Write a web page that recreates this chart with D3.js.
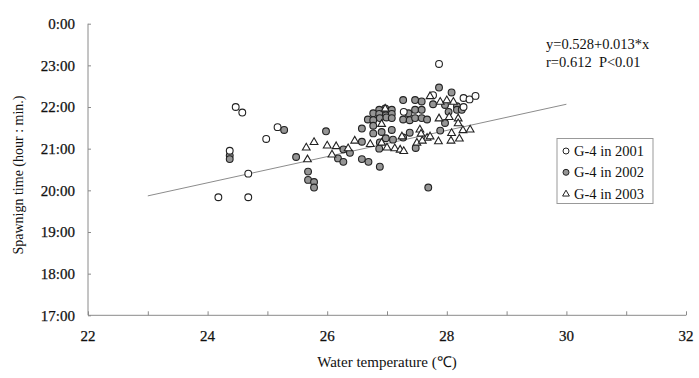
<!DOCTYPE html>
<html>
<head>
<meta charset="utf-8">
<script src="https://cdn.jsdelivr.net/npm/d3@7"></script>
<style>
body { margin: 0; background: #fff; }
text { font-family: "Liberation Serif", "Times New Roman", serif; fill: #111; }
</style>
</head>
<body>
<div id="chart"></div>
<script>
// G-4 in 2001 (open circles)
var temp2001 = [24.47, 24.58, 25.17, 24.98, 24.37, 24.68, 24.18, 24.68, 27.87, 27.77, 28.28, 28.38, 28.48, 28.28, 27.28];
var time2001 = ["22:00", "21:52", "21:31", "21:14", "20:57", "20:24", "19:50", "19:50", "23:02", "22:17", "22:13", "22:11", "22:16", "22:00", "21:53"];

// G-4 in 2002 (grey circles)
var temp2002 = [25.28, 25.98, 24.37, 24.37, 25.48, 26.18, 25.68, 25.68, 25.78, 25.78,
	27.87, 28.08, 27.27, 27.47, 27.58, 27.77, 27.97, 28.17, 26.97, 27.08, 26.87,
	26.77, 26.87, 26.98, 27.08, 27.36, 27.47, 27.58,
	26.68, 26.77, 26.88, 26.99, 27.08, 27.27, 27.38, 27.47, 27.58, 27.67,
	28.03, 28.17, 28.25, 26.77, 26.58, 27.08, 26.77, 26.91, 27.89, 27.97,
	27.38, 27.27, 26.98, 27.10, 26.58, 26.88, 26.27, 26.38, 26.87, 27.48,
	26.27, 26.58, 26.69, 26.88, 27.69];
var time2002 = ["21:27", "21:25", "20:50", "20:45", "20:48", "20:46", "20:27", "20:15", "20:12", "20:04",
	"22:28", "22:21", "22:10", "22:10", "22:08", "22:04", "22:03", "22:01", "21:58", "21:56", "21:56",
	"21:51", "21:50", "21:48", "21:50", "21:51", "21:56", "21:56",
	"21:42", "21:41", "21:44", "21:45", "21:44", "21:42", "21:41", "21:44", "21:44", "21:42",
	"21:53", "21:56", "21:56", "21:33", "21:29", "21:27", "21:22", "21:24", "21:26", "21:37",
	"21:23", "21:16", "21:15", "21:13", "21:10", "21:09", "20:59", "20:54", "21:00", "21:01",
	"20:41", "20:45", "20:41", "20:34", "20:04"];

// G-4 in 2003 (open triangles)
var temp2003 = [25.65, 25.78, 26.00, 26.15, 25.67, 26.08, 26.35, 27.72, 27.89, 28.11, 28.00, 26.97,
	27.87, 28.04, 28.19, 26.91, 27.55, 28.19, 28.27, 28.39, 28.08, 27.25, 27.57, 27.67, 27.72,
	27.50, 27.59, 27.86, 28.07, 28.21, 26.46, 26.72, 26.91, 27.00, 27.13, 27.22, 27.28];
var time2003 = ["21:02", "21:10", "21:05", "21:04", "20:45", "20:52", "21:01", "22:16", "22:08", "22:08", "22:10", "21:58",
	"21:44", "21:46", "21:44", "21:36", "21:28", "21:37", "21:27", "21:28", "21:23", "21:18", "21:22", "21:16", "21:18",
	"21:09", "21:12", "21:11", "21:12", "21:15", "21:12", "21:07", "21:09", "21:02", "21:01", "20:59", "20:57"];

// regression line end points (temperature, time)
var lineTemp = [23, 30];
var lineTime = ["19:52", "22:04"];

var xTicks = [22, 24, 26, 28, 30, 32];
var yTicks = [17, 18, 19, 20, 21, 22, 23, 24];
var yTickLabels = ["17:00", "18:00", "19:00", "20:00", "21:00", "22:00", "23:00", "0:00"];
var legendLabels = ["G-4 in 2001", "G-4 in 2002", "G-4 in 2003"];
var equationText = ["y=0.528+0.013*x", "r=0.612  P<0.01"];

function hours(s) {
	var p = s.split(":");
	return +p[0] + (+p[1]) / 60;
}

function pairs(t, h) {
	return t.map(function(d, i) { return {t: d, h: hours(h[i])}; });
}

var width = 699, height = 378;
var axisColor = "#8a8a8a";

var svg = d3.select("#chart").append("svg")
	.attr("width", width)
	.attr("height", height);

var x = d3.scaleLinear().domain([22, 32]).range([88, 686]);
var y = d3.scaleLinear().domain([17, 24]).range([315.3, 23.7]);

//x axis with a tick every degree, label every two
var xAxis = svg.append("g")
	.attr("transform", "translate(0," + y(17) + ")")
	.call(d3.axisTop(x).tickValues(d3.range(22, 33, 1)).tickSize(4).tickFormat(""));
xAxis.select(".domain").attr("d", "M" + x(22) + ",0H" + x(32)).attr("stroke", axisColor);
xAxis.selectAll("line").attr("stroke", axisColor);

svg.selectAll(".xlab")
	.data(xTicks)
	.enter().append("text")
		.attr("class", "xlab")
		.attr("x", d => x(d))
		.attr("y", 341)
		.attr("text-anchor", "middle")
		.attr("font-size", 15)
		.attr("stroke", "#111").attr("stroke-width", 0.25)
		.text(d => d);

//y axis
var yAxis = svg.append("g")
	.attr("transform", "translate(" + x(22) + ",0)")
	.call(d3.axisRight(y).tickValues(yTicks).tickSize(3).tickFormat(""));
yAxis.select(".domain").attr("d", "M0," + y(24) + "V" + y(17)).attr("stroke", axisColor);
yAxis.selectAll("line").attr("stroke", axisColor);

svg.selectAll(".ylab")
	.data(yTicks)
	.enter().append("text")
		.attr("class", "ylab")
		.attr("x", 75)
		.attr("y", d => y(d))
		.attr("dy", "0.35em")
		.attr("text-anchor", "end")
		.attr("font-size", 15)
		.attr("stroke", "#111").attr("stroke-width", 0.25)
		.text((d, i) => yTickLabels[i]);

//axis titles
svg.append("text")
	.attr("x", 387)
	.attr("y", 367)
	.attr("text-anchor", "middle")
	.attr("font-size", 15)
	.text("Water temperature (\u2103)");

svg.append("text")
	.attr("transform", "translate(23,175) rotate(-90)")
	.attr("text-anchor", "middle")
	.attr("font-size", 14)
	.text("Spawnign time (hour : min.)");

//regression line
var reg = pairs(lineTemp, lineTime);
svg.append("line")
	.attr("x1", x(reg[0].t)).attr("y1", y(reg[0].h))
	.attr("x2", x(reg[1].t)).attr("y2", y(reg[1].h))
	.attr("stroke", "#8c8c8c")
	.attr("stroke-width", 1);

//points
var tri = d3.symbol().type(d3.symbolTriangle).size(26);

svg.append("g").selectAll("circle")
	.data(pairs(temp2002, time2002))
	.enter().append("circle")
		.attr("cx", d => x(d.t))
		.attr("cy", d => y(d.h))
		.attr("r", 3.4)
		.attr("fill", "#959595")
		.attr("stroke", "#222")
		.attr("stroke-width", 1.1);

svg.append("g").selectAll("circle")
	.data(pairs(temp2001, time2001))
	.enter().append("circle")
		.attr("cx", d => x(d.t))
		.attr("cy", d => y(d.h))
		.attr("r", 3.4)
		.attr("fill", "#fff")
		.attr("stroke", "#222")
		.attr("stroke-width", 1.1);

svg.append("g").selectAll("path")
	.data(pairs(temp2003, time2003))
	.enter().append("path")
		.attr("d", tri)
		.attr("transform", d => "translate(" + x(d.t) + "," + (y(d.h) + 0.5) + ")")
		.attr("fill", "#fff")
		.attr("stroke", "#222")
		.attr("stroke-width", 1.1);

//equation
svg.selectAll(".eq")
	.data(equationText)
	.enter().append("text")
		.attr("class", "eq")
		.attr("x", 546)
		.attr("y", (d, i) => 49 + i * 17.5)
		.attr("font-size", 14.5)
		.attr("xml:space", "preserve")
		.style("white-space", "pre")
		.text(d => d);

//legend
var legend = svg.append("g");
legend.append("rect")
	.attr("x", 557).attr("y", 138.5)
	.attr("width", 96).attr("height", 65)
	.attr("fill", "#fff")
	.attr("stroke", "#999");

var rows = legend.selectAll(".lg")
	.data(legendLabels)
	.enter().append("g")
		.attr("class", "lg")
		.attr("transform", (d, i) => "translate(566," + (151 + i * 21.3) + ")");

rows.append("text")
	.attr("x", 8)
	.attr("dy", "0.35em")
	.attr("font-size", 14.5)
	.text(d => d);

rows.filter((d, i) => i < 2).append("circle")
	.attr("r", 3)
	.attr("fill", (d, i) => i == 0 ? "#fff" : "#959595")
	.attr("stroke", "#222");

rows.filter((d, i) => i == 2).append("path")
	.attr("d", d3.symbol().type(d3.symbolTriangle).size(20))
	.attr("transform", "translate(0,0.5)")
	.attr("fill", "#fff")
	.attr("stroke", "#222");
</script>
</body>
</html>
